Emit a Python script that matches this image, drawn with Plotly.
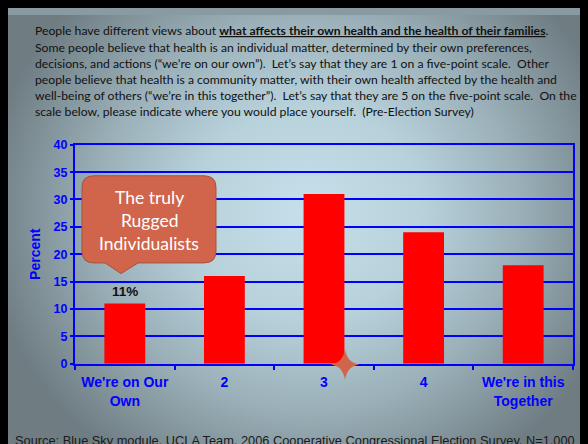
import plotly.graph_objects as go

# ---- data ----
categories = ["We're on Our<br>Own", "2", "3", "4", "We're in this<br>Together"]
percent = [11, 16, 31, 24, 18]
y_ticks = [0, 5, 10, 15, 20, 25, 30, 35, 40]
highlight_label = "11%"
callout_lines = ["The truly", "Rugged", "Individualists"]
question_lines = [
    "People have different views about <b><u>what affects their own health and the health of their families</u></b>.",
    "Some people believe that health is an individual matter, determined by their own preferences,",
    "decisions, and actions (\u201cwe\u2019re on our own\u201d).  Let\u2019s say that they are 1 on a five-point scale.  Other",
    "people believe that health is a community matter, with their own health affected by the health and",
    "well-being of others (\u201cwe\u2019re in this together\u201d).  Let\u2019s say that they are 5 on the five-point scale.  On the",
    "scale below, please indicate where you would place yourself.  (Pre-Election Survey)",
]
source_text = "Source: Blue Sky module, UCLA Team, 2006 Cooperative Congressional Election Survey, N=1,000"

W, H = 588, 444
def px(x):
    return x / W
def py(y):
    return 1 - y / H

BLUE = "#0000ff"
ACCENT = "#d0654c"

fig = go.Figure()

# background gradient (own full-canvas subplot, drawn first)
fig.add_trace(go.Scatter(
    x=[-0.04, 1.06, 1.06, -0.04, -0.04],
    y=[-0.16, -0.16, 1.24, 1.24, -0.16],
    xaxis="x", yaxis="y",
    mode="lines", line=dict(width=0),
    fill="toself",
    fillgradient=dict(type="radial", colorscale=[
        [0.0, "#c6e0eb"], [0.35, "#b8d2dc"], [0.65, "#9bb0b9"],
        [0.85, "#82939a"], [1.0, "#6f7d83"]]),
    hoverinfo="skip", showlegend=False,
))

fig.add_trace(go.Bar(
    x=categories, y=percent, xaxis="x2", yaxis="y2",
    marker=dict(color="#ff0000", line=dict(width=0)),
    width=0.41, showlegend=False, hoverinfo="skip",
))

x0, x1, y0, y1 = 67, 565, 134, 360

fig.update_layout(
    width=W, height=H,
    margin=dict(l=0, r=0, t=0, b=0),
    paper_bgcolor="#8a9aa2",
    plot_bgcolor="rgba(0,0,0,0)",
    xaxis=dict(domain=[0, 1], range=[0, 1], visible=False, fixedrange=True),
    yaxis=dict(domain=[0, 1], range=[0, 1], visible=False, fixedrange=True),
    xaxis2=dict(
        domain=[px(x0), px(x1)], anchor="y2",
        showline=True, linecolor=BLUE, linewidth=2, mirror=True,
        ticks="outside", tickson="boundaries", ticklen=4, tickcolor=BLUE, tickwidth=1.5,
        ticklabelstandoff=5,
        tickfont=dict(family="Liberation Sans, Arial", size=14, color=BLUE, weight="bold"),
        showgrid=False,
    ),
    yaxis2=dict(
        domain=[py(y1), py(y0)], anchor="x2",
        range=[0, 40], tickvals=y_ticks,
        showline=True, linecolor=BLUE, linewidth=2, mirror=True,
        ticks="outside", ticklen=3, tickcolor=BLUE, tickwidth=1.5,
        showgrid=True, gridcolor=BLUE, gridwidth=1.5,
        zeroline=False,
        tickfont=dict(family="Liberation Sans, Arial", size=12.5, color=BLUE, weight="bold"),
        title=dict(text="Percent", standoff=10,
                   font=dict(family="Liberation Sans, Arial", size=14, color=BLUE, weight="bold")),
    ),
)

def build_path(items):
    parts = []
    for it in items:
        cmd = it[0]
        coords = it[1:]
        c = []
        for i in range(0, len(coords), 2):
            c.append(f"{px(coords[i]):.5f},{py(coords[i+1]):.5f}")
        parts.append(cmd + " ".join(c))
    return " ".join(parts) + " Z"

shapes = []
# callout bubble
bx0, bx1, by0, by1, r = 74, 208, 166, 256, 12
tip = (113, 267)
base_l, base_r = 97, 130
pts = [
    ("M", bx0 + r, by0), ("L", bx1 - r, by0), ("Q", bx1, by0, bx1, by0 + r),
    ("L", bx1, by1 - r), ("Q", bx1, by1, bx1 - r, by1),
    ("L", base_r, by1), ("L", tip[0], tip[1]), ("L", base_l, by1),
    ("L", bx0 + r, by1), ("Q", bx0, by1, bx0, by1 - r),
    ("L", bx0, by0 + r), ("Q", bx0, by0, bx0 + r, by0),
]
shapes.append(dict(type="path", xref="paper", yref="paper", path=build_path(pts),
                   fillcolor=ACCENT, line=dict(color="#a9503c", width=1)))

# four-pointed star
cx, cy, hw, hh, k = 337, 361, 14, 16, 2
star = [
    ("M", cx, cy - hh), ("Q", cx + k, cy - k, cx + hw, cy),
    ("Q", cx + k, cy + k, cx, cy + hh), ("Q", cx - k, cy + k, cx - hw, cy),
    ("Q", cx - k, cy - k, cx, cy - hh),
]
shapes.append(dict(type="path", xref="paper", yref="paper", path=build_path(star),
                   fillcolor=ACCENT, line=dict(width=0)))
fig.update_layout(shapes=shapes)

ann = []
line_y = [16.5 + 16.6 * i for i in range(len(question_lines))]
for t, yy in zip(question_lines, line_y):
    ann.append(dict(text=t, xref="paper", yref="paper", x=px(25), y=py(yy),
                    xanchor="left", yanchor="middle", showarrow=False,
                    font=dict(family="Lato", size=12.2, color="#111111")))
for t, yy in zip(callout_lines, [188, 212, 236]):
    ann.append(dict(text=t, xref="paper", yref="paper", x=px(141), y=py(yy),
                    xanchor="center", yanchor="middle", showarrow=False,
                    font=dict(family="Lato", size=17.5, color="#ffffff")))
ann.append(dict(text=f"<b>{highlight_label}</b>", xref="x2", yref="y2",
                x=categories[0], y=percent[0], xanchor="center", yanchor="bottom",
                yshift=2, showarrow=False,
                font=dict(family="Liberation Sans, Arial", size=13.5, color="#111111")))
ann.append(dict(text=source_text, xref="paper", yref="paper", x=px(5), y=py(439),
                xanchor="left", yanchor="middle", showarrow=False,
                font=dict(family="Liberation Sans, Arial", size=12.8, color="#1a1a1a")))
fig.update_layout(annotations=ann)

fig.write_html("out.html", post_script="document.body.style.background='#000000';")
